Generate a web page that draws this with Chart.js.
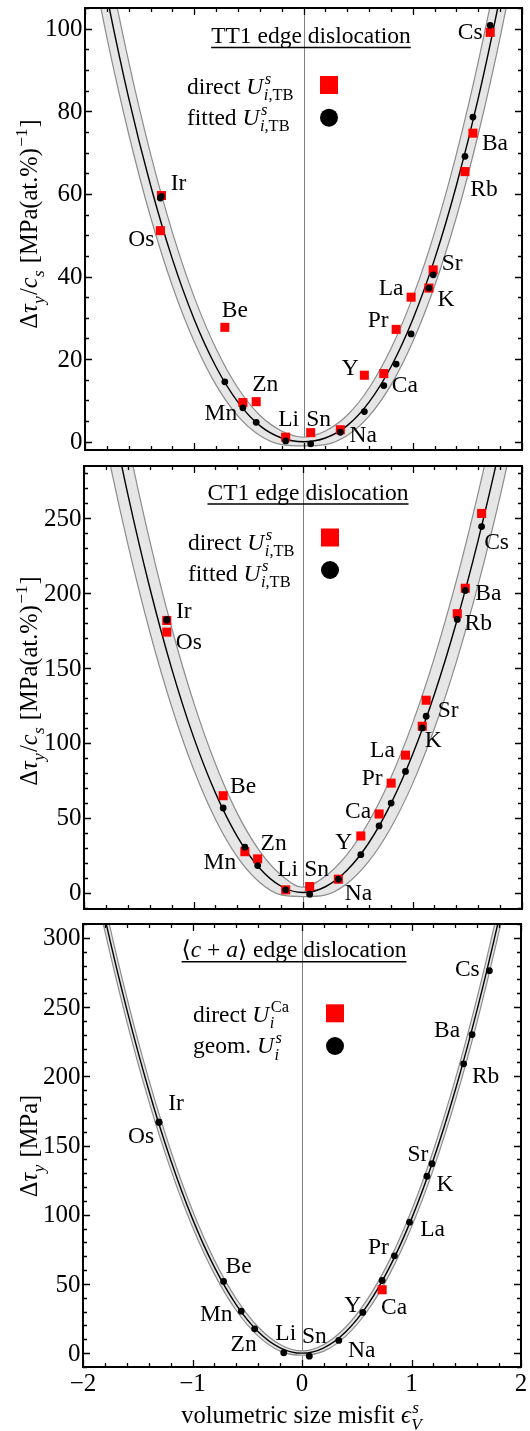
<!DOCTYPE html>
<html><head><meta charset="utf-8">
<script src="https://cdn.jsdelivr.net/npm/chart.js@4"></script>
<style>
html,body{margin:0;padding:0;background:#fff;}
.wrap{position:absolute;left:0;width:530px;}
canvas{display:block;}
</style></head><body>
<div class="wrap" style="top:0;height:458px"><canvas id="c1" width="530" height="458"></canvas></div>
<div class="wrap" style="top:458px;height:458px"><canvas id="c2" width="530" height="458"></canvas></div>
<div class="wrap" style="top:916px;height:515px"><canvas id="c3" width="530" height="515"></canvas></div>
<script>
// ---------------- data ----------------
const elements = ['Cs','Ba','Rb','Ir','Os','Sr','K','La','Pr','Ca','Y','Na','Sn','Li','Zn','Mn','Be'];

// TT1 edge dislocation
const tt1Misfit = [1.709, 1.551, 1.478, -1.300, -1.310, 1.187, 1.148, 0.985, 0.848, 0.735, 0.557, 0.337, 0.066, -0.163, -0.433, -0.555, -0.720];
const tt1Direct = [99.1, 74.7, 65.4, 59.6, 51.1, 41.6, 37.2, 35.0, 27.2, 16.5, 16.1, 2.9, 2.2, 1.1, 9.7, 9.5, 27.7];
const tt1Fitted = [100.8, 78.6, 69.1, 59.4, 59.0, 40.4, 37.2, 26.1, 18.8, 13.6, 7.3, 2.3, -0.5, 0.2, 4.7, 8.2, 14.5];

// CT1 edge dislocation
const ct1Misfit = [1.631, 1.482, 1.409, -1.244, -1.244, 1.125, 1.089, 0.936, 0.805, 0.695, 0.528, 0.323, 0.061, -0.158, -0.414, -0.531, -0.729];
const ct1Direct = [253.3, 203.3, 186.3, 181.8, 174.0, 128.5, 111.1, 91.8, 73.1, 52.5, 37.8, 8.9, 4.0, 1.8, 22.5, 27.3, 64.7];
const ct1Fitted = [244.5, 201.8, 182.5, 182.5, 182.0, 117.8, 110.0, 80.9, 59.8, 44.5, 25.3, 8.9, -1.1, 1.8, 18.0, 30.3, 56.5];

// <c+a> edge dislocation
const caMisfit = [1.711, 1.553, 1.476, -1.306, -1.306, 1.187, 1.141, 0.982, 0.844, 0.732, 0.555, 0.336, 0.067, -0.167, -0.433, -0.555, -0.716];
const caGeom = [276.3, 230.1, 209.0, 166.8, 166.8, 136.8, 127.8, 94.6, 70.3, 52.5, 29.4, 9.2, -2.2, 0.3, 17.6, 30.3, 51.8];
const caDirectMisfit = [0.732];
const caDirect = [45.8];

// model curves with uncertainty band
const curveX = [-2,-1.8,-1.6,-1.4,-1.2,-1,-0.8,-0.6,-0.4,-0.2,0,0.2,0.4,0.6,0.8,1,1.2,1.4,1.6,1.8,2];
const tt1Curve = [136.0,107.9,83.2,62.1,44.2,29.6,18.1,9.6,3.9,0.9,0,0.9,3.9,9.6,18.1,29.6,44.2,62.1,83.2,107.9,136.0];
const tt1Upper = [147.2,117.8,92.0,69.7,50.7,35.0,22.5,13.0,6.4,2.6,1.1,2.6,6.4,13.0,22.5,35.0,50.7,69.7,92.0,117.8,147.2];
const tt1Lower = [124.8,97.9,74.5,54.4,37.7,24.2,13.7,6.2,1.5,-0.7,-1.0,-0.7,1.5,6.2,13.7,24.2,37.7,54.4,74.5,97.9,124.8];
const ct1Curve = [416,337.0,266.2,203.8,149.8,104,66.6,37.4,16.6,4.2,0,3.7,14.7,33.1,58.9,92,132.5,180.3,235.5,298.1,368];
const ct1Upper = [459.2,376.2,301.5,235.1,177.1,127.4,86.0,52.9,28.2,11.7,3.6,10.7,25.2,47.1,76.4,113.0,157.0,208.3,267.0,333.1,406.5];
const ct1Lower = [374.7,299.6,232.9,174.4,124.3,82.5,49.0,23.8,7.0,-1.6,-2.7,-1.7,5.9,20.8,43.0,72.6,109.6,154.0,205.7,264.7,331.2];
const caCurve = [388,314.3,248.3,190.1,139.7,97,62.1,34.9,15.5,3.9,0,3.9,15.5,34.9,62.1,97,139.7,190.1,248.3,314.3,388];
const caUpper = [398.5,323.9,257.0,197.9,146.6,103.0,67.2,39.2,18.9,6.3,1.6,6.3,18.9,39.2,67.2,103.0,146.6,197.9,257.0,323.9,398.5];
const caLower = [377.6,304.8,239.7,182.4,132.9,91.1,57.1,30.8,12.3,1.5,-1.5,1.5,12.3,30.8,57.1,91.1,132.9,182.4,239.7,304.8,377.6];

// ticks
const xMajorTicks = [-2,-1,0,1,2];
const tt1YTicks = [0,20,40,60,80,100];
const ct1YTicks = [0,50,100,150,200,250];
const caYTicks = [0,50,100,150,200,250,300];

// label offsets (pixels, relative to the black marker)
const tt1LabelOff = [[-20,7],[22,27],[19,34],[17,-13],[-19,42],[19,-11],[17,12],[-20,-45],[-18,-43],[21,0],[-14,-43],[23,4],[8,-24],[3,-21],[9,-37],[-22,6],[10,-71]];
const ct1LabelOff = [[15,16],[23,3],[21,4],[17,-8],[22,23],[22,-5],[11,13],[-23,-21],[-19,-24],[-21,-14],[-17,-12],[20,15],[7,-24],[2,-20],[16,-22],[-25,16],[20,-21]];
const caLabelOff = [[-22,-1],[-25,-4],[22,13],[17,-18],[-18,15],[-14,-9],[18,9],[23,8],[-16,-8],[12,27],[-10,-7],[23,10],[5,-19],[2,-19],[-11,16],[-25,4],[15,-15]];

// ---------------- helpers ----------------
const FONT = "'Liberation Serif','Times New Roman','DejaVu Serif',serif";
const fnt = (sz, it) => (it ? 'italic ' : '') + sz + 'px ' + FONT;
const fmt = v => v < 0 ? '\u2212' + Math.abs(v) : String(v);
const SUBR = 0.7;
function segWidth(ctx, s, sz) {
  if (s.stack) {
    const ss = sz * SUBR;
    const w = arr => arr.reduce((a, q) => { ctx.font = fnt(ss, q.it); return a + ctx.measureText(q.t).width; }, 0);
    return Math.max(w(s.stack.sup || []) + 1.5, w(s.stack.sub || []) + 0.5) + 1;
  }
  ctx.font = fnt(sz, s.it); return ctx.measureText(s.t).width;
}
const richWidth = (ctx, segs, sz) => segs.reduce((a, s) => a + segWidth(ctx, s, sz), 0);
function drawRich(ctx, segs, x, y, sz) {
  let cx = x;
  ctx.textAlign = 'left'; ctx.textBaseline = 'alphabetic'; ctx.fillStyle = '#000';
  for (const s of segs) {
    if (s.stack) {
      const ss = sz * SUBR;
      let sx = cx + 1.5;
      for (const q of (s.stack.sup || [])) { ctx.font = fnt(ss, q.it); ctx.fillText(q.t, sx, y - sz * 0.42); sx += ctx.measureText(q.t).width; }
      sx = cx + 0.5;
      for (const q of (s.stack.sub || [])) { ctx.font = fnt(ss, q.it); ctx.fillText(q.t, sx, y + sz * 0.27); sx += ctx.measureText(q.t).width; }
      cx += segWidth(ctx, s, sz);
    } else {
      ctx.font = fnt(sz, s.it); ctx.fillText(s.t, cx, y); cx += ctx.measureText(s.t).width;
    }
  }
  return cx - x;
}

const pts = (xs, ys) => xs.map((v, i) => ({x: v, y: ys[i]}));

function makePlugin(cfg) {
  return {
    id: 'mframe',
    beforeDatasetsDraw(chart) {
      const {ctx, chartArea: a, scales: {x}} = chart;
      ctx.save();
      ctx.strokeStyle = '#808080'; ctx.lineWidth = 1;
      const x0 = Math.round(x.getPixelForValue(0)) + 0.5;
      ctx.beginPath(); ctx.moveTo(x0, a.top); ctx.lineTo(x0, a.bottom); ctx.stroke();
      ctx.restore();
    },
    afterDatasetsDraw(chart) {
      const {ctx, chartArea: a, scales: {x, y}} = chart;
      ctx.save();
      // element labels
      ctx.fillStyle = '#000'; ctx.font = fnt(23.5, false);
      ctx.textAlign = 'center'; ctx.textBaseline = 'middle';
      elements.forEach((n, i) => {
        const px = x.getPixelForValue(cfg.labelX[i]) + cfg.labelOff[i][0];
        const py = y.getPixelForValue(cfg.labelY[i]) + cfg.labelOff[i][1];
        ctx.fillText(n, px, py);
      });
      // ticks
      ctx.strokeStyle = '#000'; ctx.lineWidth = 1.3;
      ctx.beginPath();
      for (let k = -10; k <= 10; k++) {
        const v = k / 5;
        const len = (k % 5 === 0) ? 7 : 4;
        const px = Math.round(x.getPixelForValue(v)) + 0.5;
        ctx.moveTo(px, a.bottom); ctx.lineTo(px, a.bottom - len);
        ctx.moveTo(px, a.top); ctx.lineTo(px, a.top + len);
      }
      for (let v = Math.ceil(y.min / cfg.minor) * cfg.minor; v <= y.max; v += cfg.minor) {
        const major = cfg.yTicks.indexOf(v) >= 0;
        const len = major ? 7 : 4;
        const py = Math.round(y.getPixelForValue(v)) + 0.5;
        ctx.moveTo(a.left, py); ctx.lineTo(a.left + len, py);
        ctx.moveTo(a.right, py); ctx.lineTo(a.right - len, py);
      }
      ctx.stroke();
      // frame
      ctx.lineWidth = 2;
      ctx.strokeRect(a.left, a.top, a.right - a.left, a.bottom - a.top);
      // tick labels
      ctx.fillStyle = '#000'; ctx.font = fnt(25, false);
      ctx.textAlign = 'right'; ctx.textBaseline = 'middle';
      cfg.yTicks.forEach(v => ctx.fillText(fmt(v), a.left - 2.5, y.getPixelForValue(v) + 1));
      if (cfg.xLabels) {
        ctx.textAlign = 'center';
        xMajorTicks.forEach(v => ctx.fillText(fmt(v), x.getPixelForValue(v), a.bottom + 17));
      }
      ctx.restore();
    },
    afterDraw(chart) {
      const {ctx} = chart;
      ctx.save();
      // title with underline
      const tw = richWidth(ctx, cfg.title, 23.5);
      const tx = cfg.titleX - tw / 2;
      drawRich(ctx, cfg.title, tx, cfg.titleY, 23.5);
      ctx.strokeStyle = '#000'; ctx.lineWidth = 1.6;
      ctx.beginPath(); ctx.moveTo(tx, cfg.titleY + 4.5); ctx.lineTo(tx + tw, cfg.titleY + 4.5); ctx.stroke();
      // legend
      drawRich(ctx, cfg.leg1, cfg.legX, cfg.legY1, 23.5);
      drawRich(ctx, cfg.leg2, cfg.legX, cfg.legY2, 23.5);
      ctx.fillStyle = '#ff0000';
      ctx.fillRect(cfg.sq[0] - 9, cfg.sq[1] - 9, 18, 18);
      ctx.fillStyle = '#000';
      ctx.beginPath(); ctx.arc(cfg.dot[0], cfg.dot[1], 9, 0, Math.PI * 2); ctx.fill();
      // y axis title (rotated)
      ctx.save();
      ctx.translate(cfg.yTitleX, cfg.yTitleY);
      ctx.rotate(-Math.PI / 2);
      const yw = richWidth(ctx, cfg.yTitle, 24.5);
      drawRich(ctx, cfg.yTitle, -yw / 2, 0, 24.5);
      ctx.restore();
      // x axis title
      if (cfg.xTitle) {
        const xw = richWidth(ctx, cfg.xTitle, 24.5);
        drawRich(ctx, cfg.xTitle, cfg.xTitleX - xw / 2, cfg.xTitleY, 24.5);
      }
      ctx.restore();
    }
  };
}

function bandSets(upper, lower, curve) {
  return [
    {data: pts(curveX, upper), borderColor: '#8c8c8c', borderWidth: 1.2, backgroundColor: '#e6e6e6',
     fill: '+1', pointRadius: 0, cubicInterpolationMode: 'monotone', order: 6, clip: 0},
    {data: pts(curveX, lower), borderColor: '#8c8c8c', borderWidth: 1.2, fill: false,
     pointRadius: 0, cubicInterpolationMode: 'monotone', order: 5, clip: 0},
    {data: pts(curveX, curve), borderColor: '#000', borderWidth: 1.4, fill: false,
     pointRadius: 0, cubicInterpolationMode: 'monotone', order: 4, clip: 0}
  ];
}
const redSet = (xs, ys) => ({data: pts(xs, ys), showLine: false, pointStyle: 'rect', pointRadius: 6.4,
  pointBackgroundColor: '#ff0000', pointBorderWidth: 0, order: 2});
const blackSet = (xs, ys) => ({data: pts(xs, ys), showLine: false, pointStyle: 'circle', pointRadius: 3.4,
  pointBackgroundColor: '#000', pointBorderWidth: 0, order: 1});

function makeChart(id, p) {
  return new Chart(document.getElementById(id), {
    type: 'line',
    data: {datasets: p.datasets},
    options: {
      responsive: false, animation: false, events: [],
      layout: {padding: {top: 8, right: p.padRight, left: 0, bottom: 0}, autoPadding: false},
      plugins: {legend: {display: false}, tooltip: {enabled: false}},
      scales: {
        x: {
          type: 'linear', min: -2, max: 2,
          grid: {display: false, drawTicks: false}, border: {display: false},
          ticks: {display: false},
          afterBuildTicks: s => { s.ticks = xMajorTicks.map(v => ({value: v})); },
          afterFit: s => { s.height = p.xHeight; s.paddingLeft = 0; s.paddingRight = 0; }
        },
        y: {
          type: 'linear', min: p.yMin, max: p.yMax,
          grid: {display: false, drawTicks: false}, border: {display: false},
          ticks: {display: false},
          afterBuildTicks: s => { s.ticks = p.yTicks.map(v => ({value: v})); },
          afterFit: s => { s.width = p.left; s.paddingTop = 0; s.paddingBottom = 0; }
        }
      }
    },
    plugins: [makePlugin(p)]
  });
}

const yTitleRatio = [
  {t: '\u0394'}, {t: '\u03C4', it: 1}, {stack: {sub: [{t: 'y', it: 1}]}},
  {t: '/'}, {t: 'c', it: 1}, {stack: {sub: [{t: 's', it: 1}]}},
  {t: ' [MPa(at.%)'}, {stack: {sup: [{t: '\u22121'}]}}, {t: ']'}
];
const legUiTB = [{t: 'U', it: 1}, {stack: {sup: [{t: 's', it: 1}], sub: [{t: 'i', it: 1}, {t: ',TB'}]}}];

makeChart('c1', {
  datasets: [...bandSets(tt1Upper, tt1Lower, tt1Curve), redSet(tt1Misfit, tt1Direct), blackSet(tt1Misfit, tt1Fitted)],
  yMin: -2, yMax: 105, yTicks: tt1YTicks, minor: 5, left: 85, padRight: 8, xHeight: 8, xLabels: false,
  labelX: tt1Misfit, labelY: tt1Fitted, labelOff: tt1LabelOff,
  title: [{t: 'TT1 edge dislocation'}], titleX: 311, titleY: 43,
  leg1: [{t: 'direct '}, ...legUiTB], leg2: [{t: 'fitted '}, ...legUiTB], legX: 187, legY1: 93.5, legY2: 125,
  sq: [329, 85], dot: [329, 117.7],
  yTitle: yTitleRatio, yTitleX: 37, yTitleY: 224
});

makeChart('c2', {
  datasets: [...bandSets(ct1Upper, ct1Lower, ct1Curve), redSet(ct1Misfit, ct1Direct), blackSet(ct1Misfit, ct1Fitted)],
  yMin: -11, yMax: 285, yTicks: ct1YTicks, minor: 10, left: 84, padRight: 8, xHeight: 7, xLabels: false,
  labelX: ct1Misfit, labelY: ct1Fitted, labelOff: ct1LabelOff,
  title: [{t: 'CT1 edge dislocation'}], titleX: 308, titleY: 41.5,
  leg1: [{t: 'direct '}, ...legUiTB], leg2: [{t: 'fitted '}, ...legUiTB], legX: 188, legY1: 91.5, legY2: 122.5,
  sq: [330, 79.5], dot: [330, 112],
  yTitle: yTitleRatio, yTitleX: 37, yTitleY: 223
});

makeChart('c3', {
  datasets: [...bandSets(caUpper, caLower, caCurve), redSet(caDirectMisfit, caDirect), blackSet(caMisfit, caGeom)],
  yMin: -10, yMax: 310, yTicks: caYTicks, minor: 10, left: 83, padRight: 9, xHeight: 64, xLabels: true,
  labelX: caMisfit, labelY: caGeom, labelOff: caLabelOff,
  title: [{t: '\u27E8'}, {t: 'c', it: 1}, {t: ' + '}, {t: 'a', it: 1}, {t: '\u27E9 edge dislocation'}], titleX: 294, titleY: 41.3,
  leg1: [{t: 'direct '}, {t: 'U', it: 1}, {stack: {sup: [{t: 'Ca'}], sub: [{t: 'i', it: 1}]}}],
  leg2: [{t: 'geom. '}, {t: 'U', it: 1}, {stack: {sup: [{t: 's', it: 1}], sub: [{t: 'i', it: 1}]}}],
  legX: 193, legY1: 105.7, legY2: 137.3,
  sq: [335, 97.3], dot: [335, 130],
  yTitle: [{t: '\u0394'}, {t: '\u03C4', it: 1}, {stack: {sub: [{t: 'y', it: 1}]}}, {t: ' [MPa]'}], yTitleX: 37, yTitleY: 230,
  xTitle: [{t: 'volumetric size misfit '}, {t: '\u03F5', it: 1}, {stack: {sup: [{t: 's', it: 1}], sub: [{t: 'V', it: 1}]}}],
  xTitleX: 302, xTitleY: 507
});
</script>
</body></html>
